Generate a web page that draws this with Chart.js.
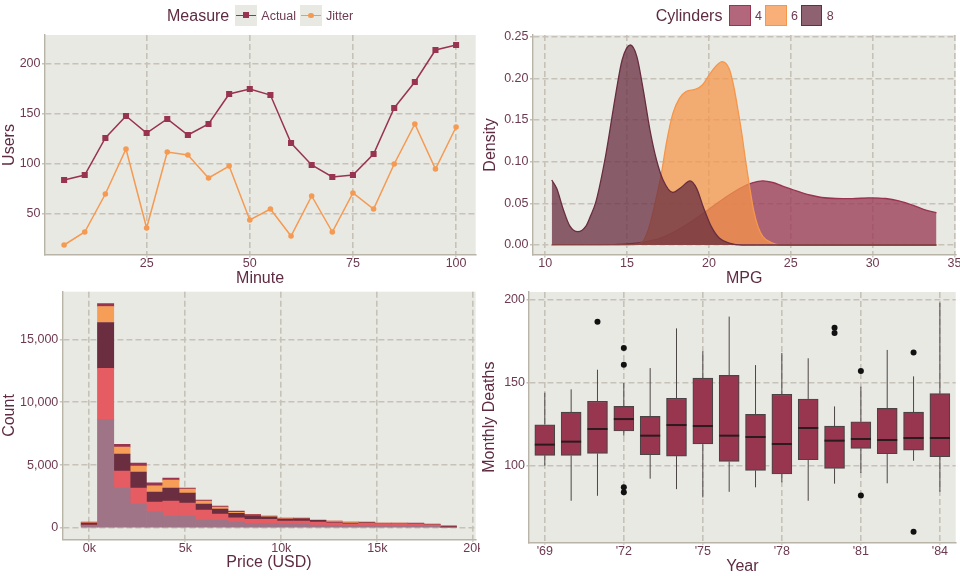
<!DOCTYPE html>
<html>
<head>
<meta charset="utf-8">
<script src="https://cdn.jsdelivr.net/npm/chart.js@4.4.1/dist/chart.umd.min.js"></script>
<style>
  body { margin: 0; background: #fff; width: 960px; height: 576px; position: relative; overflow: hidden;
         font-family: 'Liberation Sans', Arial, sans-serif; }
  canvas { position: absolute; }
  .lg { position: absolute; white-space: nowrap; line-height: 20px; top: 6.3px; }
  .lg-title { font-size: 16px; color: #5e2b42; }
  .lg-label { font-size: 12.5px; color: #6d3a50; }
  .key { position: absolute; top: 4.7px; width: 21.4px; height: 21.3px; box-sizing: border-box; }
  .key .ln { position: absolute; left: 1px; right: 1px; top: 9.9px; height: 1.5px; }
  .key .mk { position: absolute; }
</style>
</head>
<body>
<canvas id="lineChart" width="480" height="288" style="left:0;top:0"></canvas>
<canvas id="densityChart" width="480" height="288" style="left:480px;top:0"></canvas>
<canvas id="histChart" width="480" height="288" style="left:0;top:288px"></canvas>
<canvas id="boxChart" width="480" height="288" style="left:480px;top:288px"></canvas>

<!-- legend: line chart -->
<div class="lg lg-title" style="left:167px">Measure</div>
<div class="key" style="left:235.3px;background:#e8e9e3">
  <div class="ln" style="background:#983450"></div>
  <div class="mk" style="left:7.7px;top:7.6px;width:6px;height:6px;background:#983450"></div>
</div>
<div class="lg lg-label" style="left:261.3px">Actual</div>
<div class="key" style="left:300.3px;background:#e8e9e3">
  <div class="ln" style="background:#f59a52"></div>
  <div class="mk" style="left:8px;top:7.9px;width:5.4px;height:5.4px;border-radius:50%;background:#f59a52"></div>
</div>
<div class="lg lg-label" style="left:326px">Jitter</div>

<!-- legend: density chart -->
<div class="lg lg-title" style="left:655.7px">Cylinders</div>
<div class="key" style="left:729.3px;background:rgba(152,52,80,0.75);border:1.5px solid #983450"></div>
<div class="lg lg-label" style="left:755px">4</div>
<div class="key" style="left:765.3px;background:rgba(246,150,75,0.75);border:1.5px solid #f6964b"></div>
<div class="lg lg-label" style="left:791px">6</div>
<div class="key" style="left:801px;background:rgba(104,45,64,0.75);border:1.5px solid #682d40"></div>
<div class="lg lg-label" style="left:826.7px">8</div>

<script>
// ---------- line chart data ----------
const minutes = [5, 10, 15, 20, 25, 30, 35, 40, 45, 50, 55, 60, 65, 70, 75, 80, 85, 90, 95, 100];
const actualUsers = [84, 89, 126, 148, 131, 145, 129, 140, 170, 175, 169, 121, 99, 87, 89, 110, 156, 182, 214, 219];
const jitterUsers = [19, 32, 70, 115, 36, 112, 109, 86, 98, 44, 55, 28, 68, 32, 71, 55, 100, 140, 95, 137];
const minuteTicks = [25, 50, 75, 100];
const userTicks = [50, 100, 150, 200];

// ---------- density chart data ----------
const cyl4Mpg = [10.4, 12.0, 14.0, 15.0, 16.0, 17.0, 18.0, 19.0, 20.0, 21.0, 22.0, 22.65, 23.3, 23.9, 24.5, 25.1, 25.7, 26.3, 26.9, 27.75, 28.75, 29.8, 30.8, 31.6, 32.45, 33.25, 33.9];
const cyl4Density = [0, 0.0002, 0.0005, 0.0012, 0.0035, 0.008, 0.017, 0.029, 0.043, 0.057, 0.069, 0.0746, 0.077, 0.075, 0.0706, 0.0666, 0.0626, 0.0594, 0.057, 0.0558, 0.0556, 0.0566, 0.0558, 0.053, 0.0478, 0.0419, 0.0387];
const cyl6Mpg = [10.4, 15.0, 15.6, 16.0, 16.4, 16.8, 17.1, 17.4, 17.8, 18.2, 18.6, 19.2, 19.6, 20.05, 20.45, 20.8, 21.25, 21.5, 21.75, 22.0, 22.25, 22.5, 22.75, 23.0, 23.3, 23.8, 24.4, 33.9];
const cyl6Density = [0, 0, 0.001, 0.005, 0.025, 0.058, 0.086, 0.122, 0.158, 0.176, 0.184, 0.187, 0.192, 0.205, 0.215, 0.220, 0.211, 0.192, 0.165, 0.135, 0.100, 0.068, 0.040, 0.022, 0.010, 0.003, 0, 0];
const cyl8Mpg = [10.4, 10.7, 11.1, 11.5, 12.0, 12.5, 12.75, 13.1, 13.7, 14.3, 14.7, 15.2, 15.6, 16.0, 16.4, 16.8, 17.2, 17.8, 18.3, 18.85, 19.25, 19.65, 20.15, 20.65, 21.3, 22.0, 33.9];
const cyl8Density = [0.078, 0.068, 0.043, 0.023, 0.016, 0.023, 0.034, 0.052, 0.108, 0.180, 0.222, 0.240, 0.226, 0.185, 0.138, 0.102, 0.078, 0.063, 0.069, 0.077, 0.068, 0.046, 0.022, 0.008, 0.002, 0, 0];
const mpgTicks = [10, 15, 20, 25, 30, 35];
const densityTicks = [0, 0.05, 0.10, 0.15, 0.20, 0.25];

// ---------- histogram data (bin centres in USD, counts per cut) ----------
const priceBins = [0, 850, 1700, 2550, 3400, 4250, 5100, 5950, 6800, 7650, 8500, 9350, 10200, 11050, 11900, 12750, 13600, 14450, 15300, 16150, 17000, 17850, 18700];
const idealCounts = [212, 8624, 3175, 1905, 1296, 952, 952, 635, 635, 476, 370, 370, 344, 317, 237, 212, 172, 185, 159, 159, 159, 132, 40];
const premiumCounts = [26, 4074, 1349, 1270, 767, 1191, 1032, 794, 476, 344, 330, 317, 212, 239, 240, 212, 172, 185, 159, 159, 159, 132, 40];
const veryGoodCounts = [132, 3651, 1349, 1269, 794, 1032, 794, 476, 397, 344, 290, 212, 132, 185, 132, 53, 53, 26, 26, 26, 0, 0, 79];
const goodCounts = [53, 1270, 556, 477, 503, 635, 317, 238, 159, 79, 45, 53, 53, 0, 0, 79, 79, 0, 53, 53, 0, 0, 0];
const fairCounts = [53, 238, 238, 238, 238, 158, 80, 79, 79, 106, 60, 0, 53, 53, 26, 0, 0, 79, 0, 0, 79, 53, 0];
const priceTicks = [0, 5000, 10000, 15000, 20000];
const countTicks = [0, 5000, 10000, 15000];

// ---------- box plot data ----------
const boxYears = [1969, 1970, 1971, 1972, 1973, 1974, 1975, 1976, 1977, 1978, 1979, 1980, 1981, 1982, 1983, 1984];
const whiskerLow = [100.0, 78.9, 81.9, 118.1, 92.2, 85.9, 80.9, 84.3, 87.0, 90.0, 78.9, 89.2, 95.6, 89.4, 103.0, 84.3];
const lowerQuartile = [106.2, 106.2, 107.4, 120.9, 106.6, 105.8, 113.1, 102.6, 97.2, 95.0, 103.6, 98.4, 110.4, 107.2, 109.4, 105.4];
const medianDeaths = [112.7, 114.5, 122.1, 128.1, 118.1, 124.5, 123.9, 118.1, 117.3, 113.1, 122.7, 115.1, 116.1, 115.5, 116.7, 116.7];
const upperQuartile = [124.7, 132.3, 138.8, 135.7, 129.7, 140.6, 152.8, 154.4, 130.9, 143.0, 140.2, 123.9, 126.5, 134.5, 132.3, 143.4];
const whiskerHigh = [144.0, 146.0, 157.8, 149.8, 158.8, 182.7, 168.9, 189.8, 160.6, 167.9, 164.7, 135.7, 147.6, 169.7, 153.8, 198.2];
const outlierYears = [1971, 1972, 1972, 1972, 1972, 1980, 1980, 1981, 1981, 1983, 1983];
const outlierDeaths = [186.7, 170.9, 160.8, 87.1, 84.1, 183.1, 179.9, 157.0, 82.1, 168.1, 60.2];
const yearTicks = [1969, 1972, 1975, 1978, 1981, 1984];
const deathTicks = [100, 150, 200];

// ---------- shared style ----------
const tickColor = '#6d3a50';
const titleColor = '#5e2b42';
const gridColor = '#c6c2b8';
const axisColor = '#b9b4a8';
const panelColor = '#e8e9e3';

Chart.defaults.font.family = "'Liberation Sans', Arial, sans-serif";
Chart.defaults.font.size = 12.5;
Chart.defaults.color = tickColor;
Chart.defaults.animation = false;
Chart.defaults.plugins.legend.display = false;
Chart.defaults.plugins.tooltip.enabled = false;

// panel background behind the grid
Chart.register({
  id: 'panelBg',
  beforeDraw(chart) {
    const { ctx, chartArea: a } = chart;
    ctx.save();
    ctx.fillStyle = panelColor;
    ctx.fillRect(a.left, a.top, a.right - a.left, a.bottom - a.top);
    ctx.restore();
  }
});

const gridOpts = { color: gridColor, lineWidth: 1.6, drawTicks: true, tickLength: 2.5, tickColor: gridColor, tickWidth: 1.4, offset: false };
const borderOpts = { color: axisColor, width: 1.4, dash: [6, 3] };

function xAxis(min, max, ticks, fmt, title, height, tickPad, titlePad) {
  return {
    type: 'linear', min: min, max: max, offset: false,
    afterBuildTicks: s => { s.ticks = ticks.map(v => ({ value: v })); },
    afterFit: s => { s.height = height; s.paddingLeft = 0; s.paddingRight = 0; },
    ticks: { callback: fmt, padding: tickPad, maxRotation: 0, autoSkip: false, color: tickColor },
    grid: gridOpts,
    border: borderOpts,
    title: { display: true, text: title, color: titleColor, font: { size: 16 }, padding: { top: 0, bottom: titlePad } }
  };
}

function yAxis(min, max, ticks, fmt, title, width, titlePad) {
  return {
    type: 'linear', min: min, max: max,
    afterBuildTicks: s => { s.ticks = ticks.map(v => ({ value: v })); },
    afterFit: s => { s.width = width; s.paddingTop = 0; s.paddingBottom = 0; },
    ticks: { callback: fmt, padding: 1.5, autoSkip: false, color: tickColor },
    grid: gridOpts,
    border: borderOpts,
    title: { display: true, text: title, color: titleColor, font: { size: 16 }, padding: { top: titlePad, bottom: 0 } }
  };
}

const plain = v => String(v);
const toPoints = (xs, ys) => xs.map((x, i) => ({ x: x, y: ys[i] }));

// ---------- top left: users per minute ----------
new Chart(document.getElementById('lineChart'), {
  type: 'line',
  data: {
    datasets: [
      {
        label: 'Actual', data: toPoints(minutes, actualUsers),
        borderColor: '#983450', backgroundColor: '#983450', borderWidth: 1.5,
        pointStyle: 'rect', pointRadius: 4.3, pointBorderWidth: 0
      },
      {
        label: 'Jitter', data: toPoints(minutes, jitterUsers),
        borderColor: '#f59a52', backgroundColor: '#f59a52', borderWidth: 1.5,
        pointStyle: 'circle', pointRadius: 2.8, pointBorderWidth: 0
      }
    ]
  },
  options: {
    responsive: false,
    layout: { padding: { left: 0, right: 4, top: 35, bottom: 0 } },
    scales: {
      x: xAxis(0.25, 104.75, minuteTicks, plain, 'Minute', 33, -1.5, 0),
      y: yAxis(9, 229, userTicks, plain, 'Users', 44.5, 0.4)
    }
  }
});

// ---------- top right: mpg density ----------
new Chart(document.getElementById('densityChart'), {
  type: 'line',
  data: {
    datasets: [
      {
        label: '4', data: toPoints(cyl4Mpg, cyl4Density), order: 3,
        borderColor: '#983450', backgroundColor: 'rgba(152,52,80,0.75)', fill: 'origin'
      },
      {
        label: '6', data: toPoints(cyl6Mpg, cyl6Density), order: 2,
        borderColor: '#f6964b', backgroundColor: 'rgba(246,150,75,0.75)', fill: 'origin'
      },
      {
        label: '8', data: toPoints(cyl8Mpg, cyl8Density), order: 1,
        borderColor: '#682d40', backgroundColor: 'rgba(104,45,64,0.75)', fill: 'origin'
      }
    ]
  },
  options: {
    responsive: false,
    layout: { padding: { left: 0, right: 4.3, top: 35, bottom: 0 } },
    elements: {
      line: { borderWidth: 1.3, cubicInterpolationMode: 'monotone' },
      point: { radius: 0 }
    },
    scales: {
      x: xAxis(9.225, 35.075, mpgTicks, plain, 'MPG', 33, -1, 0),
      y: yAxis(-0.012, 0.252, densityTicks, v => v.toFixed(2), 'Density', 52.5, 1.1)
    }
  }
});

// ---------- bottom left: price histogram ----------
const cutSeries = [
  { label: 'Ideal', counts: idealCounts, color: '#9e7486' },
  { label: 'Premium', counts: premiumCounts, color: '#e55c62' },
  { label: 'Very Good', counts: veryGoodCounts, color: '#6b2d40' },
  { label: 'Good', counts: goodCounts, color: '#f69e58' },
  { label: 'Fair', counts: fairCounts, color: '#983450' }
];

new Chart(document.getElementById('histChart'), {
  type: 'bar',
  data: {
    datasets: cutSeries.map(s => ({
      label: s.label, data: toPoints(priceBins, s.counts),
      backgroundColor: s.color, borderWidth: 0,
      barPercentage: 1, categoryPercentage: 1
    }))
  },
  options: {
    responsive: false,
    layout: { padding: { left: 0, right: 4.3, top: 3.7, bottom: 0 } },
    scales: {
      x: Object.assign(xAxis(-1406, 20125, priceTicks, v => (v / 1000) + 'k', 'Price (USD)', 36.7, -1, 4), { stacked: true }),
      y: Object.assign(yAxis(-895, 18795, countTicks, v => v.toLocaleString('en-US'), 'Count', 62.3, 0.4), { stacked: true })
    }
  }
});

// ---------- bottom right: deaths per year box plot ----------
const boxWhiskers = {
  id: 'boxWhiskers',
  beforeDatasetsDraw(chart) {
    const { ctx, scales: { x, y } } = chart;
    ctx.save();
    ctx.strokeStyle = '#4d4646';
    ctx.lineWidth = 1;
    boxYears.forEach((yr, i) => {
      const px = x.getPixelForValue(yr);
      ctx.beginPath();
      ctx.moveTo(px, y.getPixelForValue(whiskerLow[i]));
      ctx.lineTo(px, y.getPixelForValue(lowerQuartile[i]));
      ctx.moveTo(px, y.getPixelForValue(upperQuartile[i]));
      ctx.lineTo(px, y.getPixelForValue(whiskerHigh[i]));
      ctx.stroke();
    });
    ctx.restore();
  },
  afterDatasetsDraw(chart) {
    const { ctx, scales: { y } } = chart;
    const bars = chart.getDatasetMeta(0).data;
    ctx.save();
    ctx.strokeStyle = '#2b1a1e';
    ctx.lineWidth = 2;
    bars.forEach((bar, i) => {
      const py = y.getPixelForValue(medianDeaths[i]);
      ctx.beginPath();
      ctx.moveTo(bar.x - bar.width / 2, py);
      ctx.lineTo(bar.x + bar.width / 2, py);
      ctx.stroke();
    });
    ctx.restore();
  }
};

new Chart(document.getElementById('boxChart'), {
  type: 'bar',
  data: {
    datasets: [
      {
        type: 'bar', label: 'Deaths',
        data: boxYears.map((yr, i) => ({ x: yr, y: [lowerQuartile[i], upperQuartile[i]] })),
        backgroundColor: '#98364f', borderColor: '#4b4446', borderWidth: 1.2,
        borderSkipped: false, barThickness: 20
      },
      {
        type: 'scatter', label: 'Outliers',
        data: toPoints(outlierYears, outlierDeaths),
        backgroundColor: '#111111', borderWidth: 0, pointRadius: 3
      }
    ]
  },
  options: {
    responsive: false,
    layout: { padding: { left: 0, right: 4.3, top: 4, bottom: 0 } },
    scales: {
      x: xAxis(1968.4, 1984.6, yearTicks, v => "'" + String(v).slice(2), 'Year', 33.7, -0.6, 0),
      y: yAxis(53.9, 204.6, deathTicks, plain, 'Monthly Deaths', 49, 0.4)
    }
  },
  plugins: [boxWhiskers]
});
</script>
</body>
</html>
